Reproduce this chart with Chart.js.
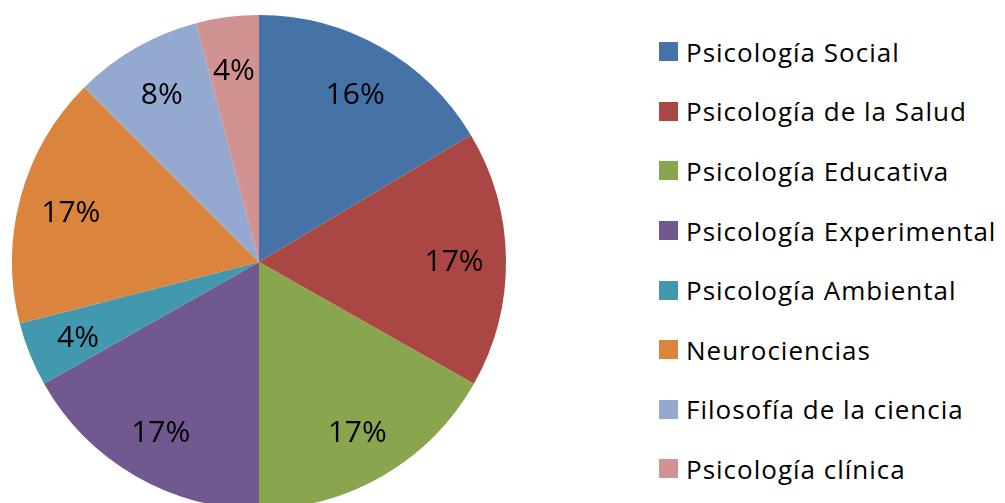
<!DOCTYPE html>
<html lang="es">
<head>
    <meta charset="UTF-8">
    <title>Áreas</title>
    <script src="https://cdn.jsdelivr.net/npm/chart.js"></script>
    <style>
        body {
            margin: 0;
            width: 1005px;
            height: 503px;
            overflow: hidden;
            background: #fff;
            font-family: "Open Sans", sans-serif;
        }
        #pie-wrap {
            position: absolute;
            left: 0;
            top: 0;
            width: 518px;
            height: 524px;
        }
        #legend {
            position: absolute;
            left: 659px;
            top: 22px;
            margin: 0;
            padding: 0;
            list-style: none;
        }
        #legend li {
            display: flex;
            align-items: center;
            height: 59.6px;
            font-size: 26px;
            letter-spacing: 1px;
            color: #000;
            white-space: nowrap;
        }
        #legend span.box {
            display: inline-block;
            width: 19px;
            height: 19px;
            margin-right: 8px;
        }
    </style>
</head>
<body>
    <div id="pie-wrap"><canvas id="areasChart"></canvas></div>
    <ul id="legend"></ul>

    <script>
        // datos (porcentajes)
        const categorias = ['Psicología Social', 'Psicología de la Salud', 'Psicología Educativa',
            'Psicología Experimental', 'Psicología Ambiental', 'Neurociencias',
            'Filosofía de la ciencia', 'Psicología clínica'];
        const porcentajes = [16.4, 16.8, 16.8, 16.8, 4.2, 16.5, 8.4, 4.1];
        const colores = ['#4572A7', '#AA4643', '#89A54E', '#71588F', '#4198AF', '#DB843D', '#93A9CF', '#D19392'];

        // etiquetas de porcentaje dentro de cada sector
        const pctLabels = {
            id: 'pctLabels',
            afterDatasetsDraw(chart) {
                const ctx = chart.ctx;
                const meta = chart.getDatasetMeta(0);
                ctx.save();
                ctx.font = '30px "Open Sans", sans-serif';
                ctx.fillStyle = '#000';
                ctx.textAlign = 'center';
                ctx.textBaseline = 'middle';
                meta.data.forEach((arc, i) => {
                    const p = arc.getProps(['x', 'y', 'startAngle', 'endAngle', 'outerRadius']);
                    const mid = (p.startAngle + p.endAngle) / 2;
                    const r = p.outerRadius * 0.79;
                    const txt = Math.round(porcentajes[i]) + '%';
                    ctx.fillText(txt, p.x + Math.cos(mid) * r, p.y + Math.sin(mid) * r + 3);
                });
                ctx.restore();
            }
        };

        const ctx = document.getElementById('areasChart').getContext('2d');
        const areasChart = new Chart(ctx, {
            type: 'pie',
            data: {
                labels: categorias,
                datasets: [{
                    data: porcentajes,
                    backgroundColor: colores,
                    borderWidth: 0
                }]
            },
            options: {
                responsive: true,
                maintainAspectRatio: false,
                animation: false,
                layout: {
                    padding: { left: 12, right: 12, top: 15, bottom: 15 }
                },
                plugins: {
                    legend: { display: false },
                    tooltip: { enabled: false }
                }
            },
            plugins: [pctLabels]
        });

        // leyenda en HTML a partir de los items del grafico
        const items = areasChart.options.plugins.legend.labels.generateLabels(areasChart);
        const ul = document.getElementById('legend');
        items.forEach(item => {
            const li = document.createElement('li');
            const box = document.createElement('span');
            box.className = 'box';
            box.style.background = item.fillStyle;
            li.appendChild(box);
            li.appendChild(document.createTextNode(item.text));
            ul.appendChild(li);
        });
    </script>
</body>
</html>
